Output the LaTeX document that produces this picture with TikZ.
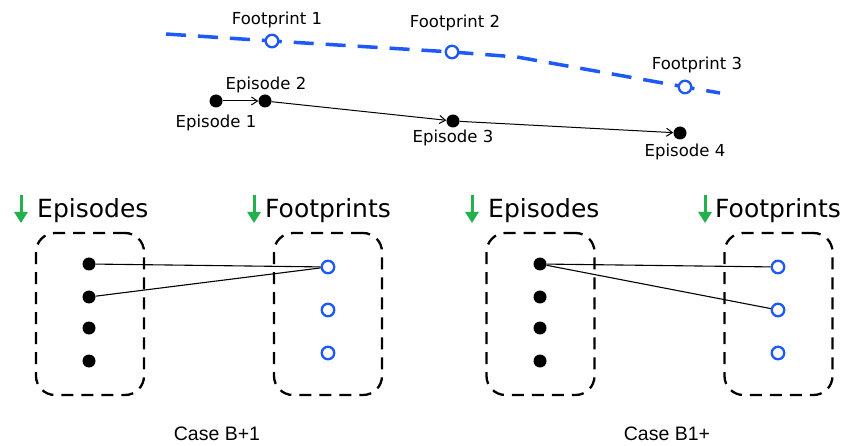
\documentclass[tikz,border=0pt]{standalone}
\usepackage{fontspec}
\setmainfont{DejaVu Sans}
\newfontfamily\casefont{Liberation Sans}
\usetikzlibrary{arrows.meta}
\definecolor{fpblue}{RGB}{28,88,250}
\definecolor{hdgreen}{RGB}{34,177,76}
\tikzset{
  ep/.style={circle, fill=black, inner sep=0pt, minimum size=13pt},
  fp/.style={circle, draw=fpblue, fill=white, line width=2.3pt, inner sep=0pt, minimum size=12.5pt},
  lbl/.style={font=\fontsize{16.5}{18}\selectfont, inner sep=0pt, anchor=base},
  head/.style={font=\fontsize{25}{28}\selectfont, inner sep=0pt, anchor=base west},
  grp/.style={draw, dash pattern=on 12pt off 8pt, line width=2.3pt, rounded corners=19pt,
              minimum width=108pt, minimum height=162pt, inner sep=0pt},
  conn/.style={-{Straight Barb[length=6pt,width=8pt]}, line width=1pt},
  link/.style={line width=1.1pt},
  fpline/.style={fpblue, line width=3.5pt, dash pattern=on 20pt off 12pt},
  down/.style={hdgreen, line width=3pt, -{Triangle[length=11pt,width=13pt]}},
  case/.style={font=\casefont\fontsize{19.5}{22}\selectfont, inner sep=0pt, anchor=base}
}
\begin{document}
\begin{tikzpicture}[x=1pt,y=-1pt]
\useasboundingbox (0,0) rectangle (843,446);

% ---- timeline: footprint trajectory ----
\coordinate (fs) at (166,34);
\coordinate (cf1) at (272,41);
\coordinate (cf2) at (452,52);
\coordinate (fb) at (517,57);
\coordinate (cf3) at (685,87);
\coordinate (fe) at (720,93);
\draw[fpline] (fs) -- (cf1) -- (cf2) -- (fb) -- (cf3) -- (fe);
\node[fp] (f1) at (cf1) {};
\node[fp] (f2) at (cf2) {};
\node[fp] (f3) at (cf3) {};
\node[lbl] (tf1) at (277,25) {Footprint 1};
\node[lbl] (tf2) at (455,28) {Footprint 2};
\node[lbl] (tf3) at (697,70) {Footprint 3};

% ---- timeline: episodes ----
\node[ep] (e1) at (216,101) {};
\node[ep] (e2) at (265,101) {};
\node[ep] (e3) at (453,121) {};
\node[ep] (e4) at (680,133) {};
\draw[conn] (e1) -- (e2);
\draw[conn] (e2) -- (e3);
\draw[conn] (e3) -- (e4);
\node[lbl] (te1) at (216,128) {Episode 1};
\node[lbl] (te2) at (266,90) {Episode 2};
\node[lbl] (te3) at (453,143) {Episode 3};
\node[lbl] (te4) at (685,157) {Episode 4};

% ---- case B+1 ----
\coordinate (la1) at (21,195);  \coordinate (la2) at (21,223);
\coordinate (lb1) at (254,195); \coordinate (lb2) at (254,223);
\draw[down] (la1) -- (la2);
\draw[down] (lb1) -- (lb2);
\node[head] (lhe) at (37,218) {Episodes};
\node[head] (lhf) at (265,218) {Footprints};
\node[grp] (lge) at (90,314) {};
\node[grp] (lgf) at (328,314) {};
\node[ep] (ld1) at (89,264) {};
\node[ep] (ld2) at (89,297) {};
\node[ep] (ld3) at (89,328) {};
\node[ep] (ld4) at (89,361) {};
\node[fp] (lf1) at (328,267) {};
\node[fp] (lf2) at (328,310) {};
\node[fp] (lf3) at (328,353) {};
\draw[link] (ld1) -- (lf1);
\draw[link] (ld2) -- (lf1);
\node[case] (lcase) at (217,440) {Case B+1};

% ---- case B1+ ----
\coordinate (ra1) at (472,195); \coordinate (ra2) at (472,223);
\coordinate (rb1) at (705,195); \coordinate (rb2) at (705,223);
\draw[down] (ra1) -- (ra2);
\draw[down] (rb1) -- (rb2);
\node[head] (rhe) at (488,218) {Episodes};
\node[head] (rhf) at (715,218) {Footprints};
\node[grp] (rge) at (540.5,314) {};
\node[grp] (rgf) at (778.5,314) {};
\node[ep] (rd1) at (540,264) {};
\node[ep] (rd2) at (540,297) {};
\node[ep] (rd3) at (540,328) {};
\node[ep] (rd4) at (540,361) {};
\node[fp] (rf1) at (778,267) {};
\node[fp] (rf2) at (778,310) {};
\node[fp] (rf3) at (778,353) {};
\draw[link] (rd1) -- (rf1);
\draw[link] (rd1) -- (rf2);
\node[case] (rcase) at (667,440) {Case B1+};
\end{tikzpicture}
\end{document}
